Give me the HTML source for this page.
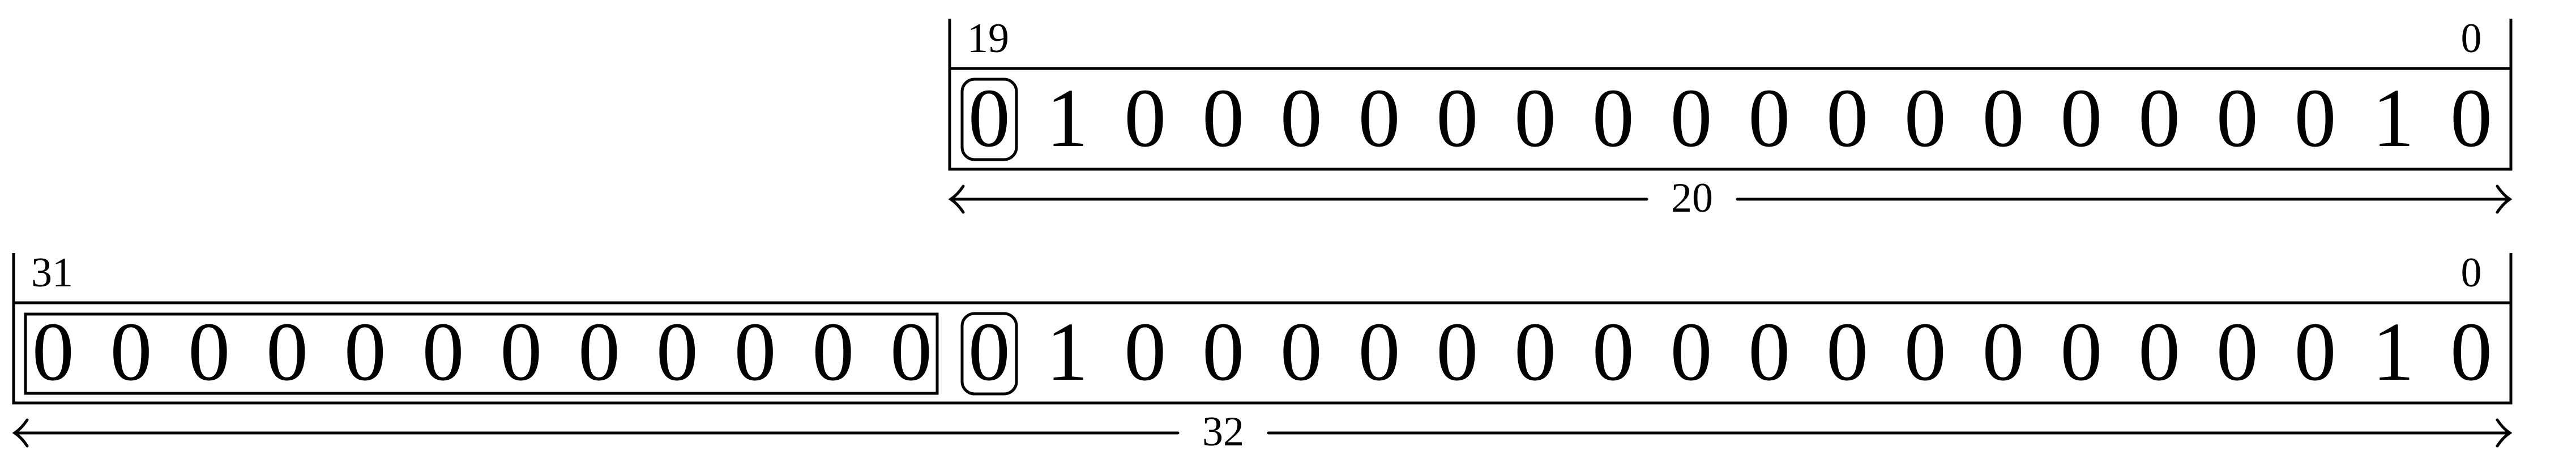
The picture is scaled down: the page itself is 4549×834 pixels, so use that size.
<!DOCTYPE html>
<html><head><meta charset="utf-8"><style>
html,body{margin:0;padding:0;background:#fff;}
svg{display:block;}
text{font-family:"Liberation Serif",serif;fill:#000;}
</style></head><body>
<svg id="chart" width="4549" height="834" viewBox="0 0 4549 834" xmlns="http://www.w3.org/2000/svg"></svg>
<script>
const topBits = [0,1,0,0,0,0,0,0,0,0,0,0,0,0,0,0,0,0,1,0];
const bottomBits = [0,0,0,0,0,0,0,0,0,0,0,0,0,1,0,0,0,0,0,0,0,0,0,0,0,0,0,0,0,0,1,0];
const topLabels = ["19","0","20"];
const bottomLabels = ["31","0","32"];

const svg = document.getElementById('chart');
const NS = 'http://www.w3.org/2000/svg';
const pitch = 137.75, lastX = 4364, rightX = 4434;
function bitX(i, n){ return lastX - (n-1-i)*pitch; }
function mk(tag, attrs){ const e=document.createElementNS(NS,tag); for(const k in attrs) e.setAttribute(k,attrs[k]); svg.appendChild(e); return e; }

function register(bits, labels, leftX, yTop, yLine, yBot, yArrow, labelX, name){
  const n = bits.length;
  let e;
  e = mk('path',{d:`M${leftX} ${yTop} V${yBot} H${rightX} V${yTop} M${leftX} ${yLine} H${rightX}`,fill:'none',stroke:'#000','stroke-width':5});
  
  
  e = mk('text',{x:leftX+31,y:yLine-29,'font-size':74});
  e.textContent = labels[0];
  
  
  e = mk('text',{x:bitX(n-1,n),y:yLine-29,'font-size':74,'text-anchor':'middle'});
  e.textContent = labels[1];
  
  
  const digitY = yBot - 41;
  bits.forEach((b,i)=>{
    const t = mk('text',{x:bitX(i,n),y:digitY,'font-size':148,'text-anchor':'middle'});
    t.textContent = String(b);
    
    
  });
  const lw = 80;
  e = mk('path',{d:`M${leftX+2} ${yArrow} H${labelX-lw} M${labelX+lw} ${yArrow} H${rightX-2} M${leftX+24} ${yArrow-23} Q${leftX+14} ${yArrow-8} ${leftX+2} ${yArrow} Q${leftX+14} ${yArrow+8} ${leftX+24} ${yArrow+23} M${rightX-24} ${yArrow-23} Q${rightX-14} ${yArrow-8} ${rightX-2} ${yArrow} Q${rightX-14} ${yArrow+8} ${rightX-24} ${yArrow+23}`,fill:'none',stroke:'#000','stroke-width':5,'stroke-linecap':'round'});
  
  
  e = mk('text',{x:labelX,y:yArrow+22,'font-size':74,'text-anchor':'middle'});
  e.textContent = labels[2];
  
  
}

register(topBits, topLabels, 1677, 33, 121, 299, 352, 2988, 'top-register');
register(bottomBits, bottomLabels, 24, 447, 535, 712, 765, 2160, 'bottom-register');

let r;
r = mk('rect',{x:1699,y:140,width:96,height:142,rx:22,fill:'none',stroke:'#000','stroke-width':5});


r = mk('rect',{x:1699,y:554,width:96,height:142,rx:22,fill:'none',stroke:'#000','stroke-width':5});


r = mk('rect',{x:45,y:555,width:1610,height:140,fill:'none',stroke:'#000','stroke-width':5});


</script>
</body></html>
